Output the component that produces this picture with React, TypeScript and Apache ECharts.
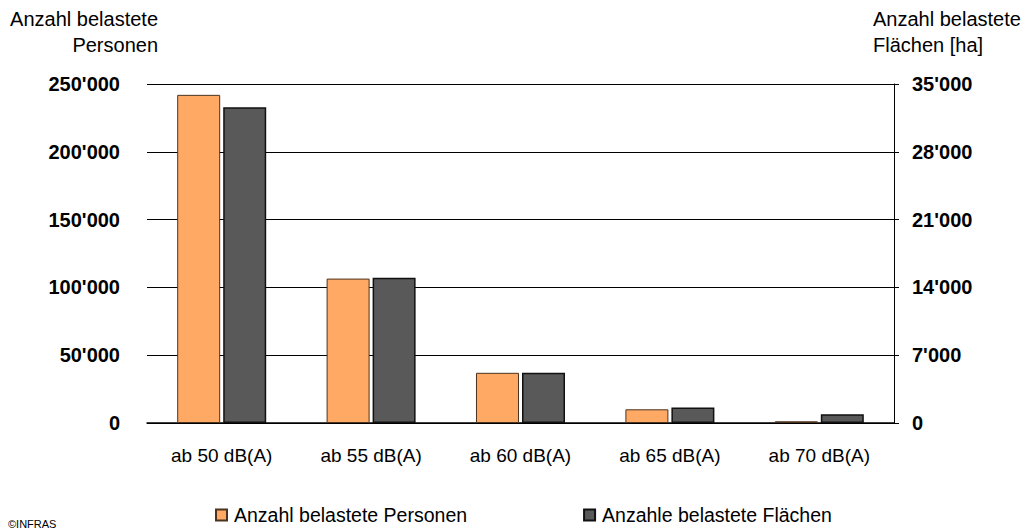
import React, { useEffect, useRef } from "react";
import * as echarts from "echarts";

const categories = ["ab 50 dB(A)", "ab 55 dB(A)", "ab 60 dB(A)", "ab 65 dB(A)", "ab 70 dB(A)"];
const personen = [242000, 106500, 37000, 10100, 1300];
const flaechen = [32600, 15000, 5200, 1600, 900];
const seriesNames = ["Anzahl belastete Personen", "Anzahle belastete Flächen"];

const FONT = "Liberation Sans, Arial, sans-serif";

function fmt(v: number): string {
  return String(v).replace(/\B(?=(\d{3})+(?!\d))/g, "'");
}

export default function App() {
  const ref = useRef<HTMLDivElement>(null);
  useEffect(() => {
    if (!ref.current) return;
    const chart = echarts.init(ref.current, null, { renderer: "svg" });
    chart.setOption({
      animation: false,
      backgroundColor: "#ffffff",
      textStyle: { fontFamily: FONT },
      grid: { left: 147, right: 139, top: 84, bottom: 108, containLabel: false },
      legend: {
        data: seriesNames,
        left: 215,
        top: 505,
        padding: 0,
        itemWidth: 11,
        itemHeight: 11,
        itemGap: 116,
        icon: "rect",
        textStyle: { fontFamily: FONT, fontSize: 19.5, color: "#000", padding: [0, 0, 0, 2] },
      },
      xAxis: {
        type: "category",
        data: categories,
        axisLine: { show: true, lineStyle: { color: "#000", width: 1.5 } },
        axisTick: { show: false },
        axisLabel: { color: "#000", fontSize: 19, fontFamily: FONT, margin: 23 },
      },
      yAxis: [
        {
          type: "value",
          min: 0,
          max: 250000,
          interval: 50000,
          axisLine: { show: false },
          axisTick: { show: false },
          splitLine: { show: true, lineStyle: { color: "#000", width: 1 } },
          axisLabel: {
            color: "#000",
            fontSize: 20,
            fontWeight: "bold",
            fontFamily: FONT,
            margin: 27,
            formatter: (v: number) => fmt(v),
          },
        },
        {
          type: "value",
          min: 0,
          max: 35000,
          interval: 7000,
          position: "right",
          axisLine: { show: true, lineStyle: { color: "#000", width: 1 } },
          axisTick: { show: true, inside: false, length: 5, lineStyle: { color: "#000" } },
          splitLine: { show: false },
          axisLabel: {
            color: "#000",
            fontSize: 20,
            fontWeight: "bold",
            fontFamily: FONT,
            margin: 18,
            formatter: (v: number) => fmt(v),
          },
        },
      ],
      series: [
        {
          name: seriesNames[0],
          type: "bar",
          yAxisIndex: 0,
          data: personen,
          barWidth: 43,
          barGap: "7%",
          itemStyle: { color: "#FFA964", borderColor: "#4a3420", borderWidth: 1 },
        },
        {
          name: seriesNames[1],
          type: "bar",
          yAxisIndex: 1,
          data: flaechen,
          barWidth: 43,
          barGap: "7%",
          itemStyle: { color: "#595959", borderColor: "#111", borderWidth: 1.5 },
        },
      ],
      graphic: [
        {
          type: "text",
          right: 1033 - 158,
          top: 9,
          style: { text: "Anzahl belastete", font: `20px ${FONT}`, fill: "#000", align: "right" },
        },
        {
          type: "text",
          right: 1033 - 158,
          top: 35,
          style: { text: "Personen", font: `20px ${FONT}`, fill: "#000", align: "right" },
        },
        {
          type: "text",
          left: 873,
          top: 9,
          style: { text: "Anzahl belastete", font: `20px ${FONT}`, fill: "#000" },
        },
        {
          type: "text",
          left: 873,
          top: 35,
          style: { text: "Flächen [ha]", font: `20px ${FONT}`, fill: "#000" },
        },
        {
          type: "text",
          left: 8,
          top: 518,
          style: { text: "©INFRAS", font: `11px ${FONT}`, fill: "#000" },
        },
      ],
    });
    return () => chart.dispose();
  }, []);
  return (
    <div
      ref={ref}
      style={{ position: "fixed", left: 0, top: 0, width: 1033, height: 531, background: "#fff" }}
    />
  );
}
